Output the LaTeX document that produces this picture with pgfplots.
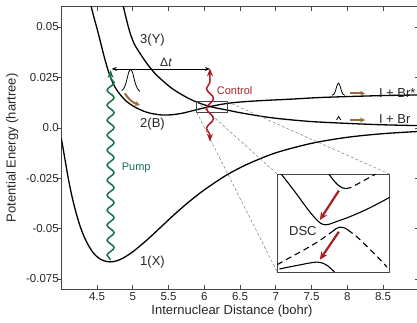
\documentclass[border=0pt]{standalone}
\usepackage{fontspec}
\setmainfont{Liberation Sans}
\usepackage{pgfplots}
\pgfplotsset{compat=1.18}
\usetikzlibrary{decorations.pathmorphing,arrows.meta}
\definecolor{pumpgreen}{RGB}{22,112,72}
\definecolor{ctrlred}{RGB}{168,32,38}
\definecolor{wpbrown}{RGB}{150,108,62}
\definecolor{axgray}{RGB}{70,70,70}
\begin{document}
\begin{tikzpicture}
\begin{axis}[
  name=main, at={(0,0)}, anchor=south west, scale only axis,
  width=357.5pt, height=282.24pt,
  xmin=4, xmax=9, ymin=-0.08, ymax=0.06,
  xtick={4.5,5,5.5,6,6.5,7,7.5,8,8.5},
  xticklabels={4.5,5,5.5,6,6.5,7,7.5,8,8.5},
  ytick={-0.075,-0.05,-0.025,0,0.025,0.05},
  yticklabels={-0.075,-0.05,-0.025,0.0,0.025,0.05},
  xtick align=inside, ytick align=outside, ytick pos=left,
  major tick length=4pt,
  tick style={axgray, line width=0.6pt},
  axis line style={axgray, line width=0.8pt},
  tick label style={font=\fontsize{11.5}{13}\selectfont, text=black!85},
  yticklabel style={xshift=5pt},
  xlabel={Internuclear Distance (bohr)},
  ylabel={Potential Energy (hartree)},
  label style={font=\fontsize{13}{15}\selectfont, text=black!85},
  xlabel style={at={(axis description cs:0.4776,-0.078)}, anchor=center},
  ylabel style={at={(axis description cs:-0.137,0.5)}, anchor=center},
]
% 1(X)
\addplot[black, line width=1.3pt, smooth] coordinates {
(4.00,-0.0050) (4.05,-0.0152) (4.10,-0.0254) (4.15,-0.0340) (4.20,-0.0412)
(4.25,-0.0473) (4.30,-0.0523) (4.35,-0.0563) (4.40,-0.0595) (4.45,-0.0621)
(4.50,-0.0639) (4.55,-0.0652) (4.60,-0.0660) (4.68,-0.0665) (4.75,-0.0662)
(4.85,-0.0649) (5.00,-0.0615) (5.20,-0.0556) (5.40,-0.0490) (5.60,-0.0424)
(5.80,-0.0363) (6.00,-0.0308) (6.30,-0.0237) (6.60,-0.0181) (7.00,-0.0124)
(7.50,-0.0077) (8.00,-0.0047) (8.50,-0.0029) (9.00,-0.0018)};
% 2(B)
\addplot[black, line width=1.3pt, smooth] coordinates {
(4.40,0.0625) (4.42,0.0600) (4.46,0.0544) (4.50,0.0493) (4.54,0.0438)
(4.58,0.0381) (4.62,0.0327) (4.66,0.0280) (4.70,0.0240) (4.75,0.0203)
(4.80,0.0176) (4.85,0.0154) (4.90,0.0135) (4.97,0.0116) (5.05,0.0099)
(5.15,0.0083) (5.25,0.0072) (5.40,0.0064) (5.55,0.0065) (5.70,0.0073)
(5.85,0.0086) (6.00,0.0099) (6.10,0.0107) (6.20,0.0114) (6.32,0.0121)
(6.50,0.0128) (6.80,0.0135) (7.20,0.0142) (7.60,0.0150) (8.00,0.0155)
(8.50,0.0160) (9.00,0.0163)};
% 3(Y)
\addplot[black, line width=1.3pt, smooth] coordinates {
(4.85,0.0630) (4.87,0.0600) (4.91,0.0540) (4.96,0.0474) (5.02,0.0417)
(5.10,0.0370) (5.20,0.0318) (5.31,0.0270) (5.43,0.0230) (5.55,0.0195)
(5.66,0.0170) (5.78,0.0146) (5.90,0.0127) (6.01,0.0113) (6.10,0.0104)
(6.20,0.0096) (6.32,0.0088) (6.50,0.0075) (6.80,0.0057) (7.06,0.0045)
(7.50,0.0031) (8.00,0.0022) (8.50,0.0015) (9.00,0.0011)};
% wave packets
\addplot[black, line width=0.8pt, smooth] coordinates {
(4.845,0.0185) (4.875,0.0195) (4.905,0.0222) (4.925,0.0250) (4.945,0.0277)
(4.970,0.0290) (4.995,0.0277) (5.015,0.0250) (5.035,0.0222) (5.065,0.0195)
(5.100,0.0181)};
\addplot[black, line width=0.8pt, smooth] coordinates {
(7.787,0.0161) (7.817,0.0168) (7.832,0.0180) (7.847,0.0198) (7.862,0.0215)
(7.877,0.0222) (7.892,0.0215) (7.907,0.0198) (7.922,0.0180) (7.937,0.0168)
(7.967,0.0161)};
\addplot[black, line width=0.8pt] coordinates {
(7.850,0.0039) (7.880,0.0056) (7.910,0.0039)};
% small box and connectors
\draw[axgray, line width=0.7pt] (axis cs:5.894,0.00769) rectangle (axis cs:6.322,0.01295);
\draw[gray, line width=0.5pt, dash pattern=on 3pt off 2pt]
  (axis cs:5.894,0.00769) -- (axis cs:7.021,-0.07152)
  (axis cs:5.894,0.01295) -- (axis cs:7.021,-0.02291)
  (axis cs:6.322,0.01295) -- (axis cs:8.587,-0.02291);
% arrows
\draw[black, line width=0.6pt, {Stealth[length=5pt,width=4pt]}-{Stealth[length=5pt,width=4pt]}]
  (axis cs:4.706,0.0292) -- (axis cs:6.08,0.0292);
\draw[pumpgreen, line width=1.5pt, decorate,
  decoration={snake, amplitude=3.5pt, segment length=15pt, post length=7pt},
  -{Stealth[length=8pt,width=6pt]}]
  (axis cs:4.69,-0.0655) -- (axis cs:4.69,0.0287);
\draw[ctrlred, line width=1.5pt, decorate,
  decoration={snake, amplitude=3.5pt, segment length=20pt, pre length=7pt, post length=7pt},
  {Stealth[length=8pt,width=6pt]}-{Stealth[length=8pt,width=6pt]}]
  (axis cs:6.08,-0.0069) -- (axis cs:6.08,0.0295);
\draw[wpbrown, line width=2pt, -{Stealth[length=5pt,width=5pt]}]
  (axis cs:4.89,0.0171) to[bend right=20] (axis cs:5.10,0.0113);
\draw[wpbrown, line width=2pt, -{Stealth[length=5pt,width=5pt]}]
  (axis cs:8.04,0.0171) -- (axis cs:8.25,0.0171);
\draw[wpbrown, line width=2pt, -{Stealth[length=5pt,width=5pt]}]
  (axis cs:8.04,0.0039) -- (axis cs:8.25,0.0039);
% labels
\node[anchor=base west, font=\fontsize{13}{15}\selectfont, text=black!85] at (axis cs:5.055,0.0416) {3(Y)};
\node[anchor=base west, font=\fontsize{13}{15}\selectfont, text=black!85] at (axis cs:5.055,0.0004) {2(B)};
\node[anchor=base west, font=\fontsize{13}{15}\selectfont, text=black!85] at (axis cs:5.055,-0.0683) {1(X)};
\node[anchor=base west, font=\fontsize{11}{13}\selectfont, text=pumpgreen] at (axis cs:4.798,-0.0214) {Pump};
\node[anchor=base west, font=\fontsize{11}{13}\selectfont, text=ctrlred] at (axis cs:6.127,0.0163) {Control};
\node[anchor=base west, font=\fontsize{12}{14}\selectfont, text=black!85] at (axis cs:5.335,0.0303) {Δ\textit{t}};
\node[anchor=base west, font=\fontsize{13}{15}\selectfont, text=black!85] at (axis cs:8.395,0.0151) {I + Br*};
\node[anchor=base west, font=\fontsize{13}{15}\selectfont, text=black!85] at (axis cs:8.395,0.0019) {I + Br};
\end{axis}
% right-hand ticks
\begin{axis}[
  at={(0,0)}, anchor=south west, scale only axis,
  width=357.5pt, height=282.24pt,
  xmin=4, xmax=9, ymin=-0.08, ymax=0.06,
  axis x line=none, axis y line*=right,
  ytick={-0.075,-0.05,-0.025,0,0.025,0.05}, yticklabels={},
  ytick align=inside, major tick length=4pt,
  tick style={axgray, line width=0.6pt},
  axis line style={axgray, line width=0.8pt},
]
\end{axis}
% inset
\begin{axis}[
  at={(216pt,17.1pt)}, anchor=south west, scale only axis,
  width=112pt, height=98pt,
  xmin=0, xmax=1, ymin=0, ymax=1,
  xtick=\empty, ytick=\empty,
  axis line style={axgray, line width=0.8pt},
  axis background/.style={fill=white},
]
\addplot[black, line width=1.1pt, smooth] coordinates {
(0.035,1.0) (0.10,0.905) (0.17,0.80) (0.24,0.69) (0.30,0.60) (0.35,0.535)
(0.39,0.495) (0.43,0.482) (0.47,0.49) (0.53,0.515) (0.65,0.565) (0.80,0.64)
(0.92,0.71) (1.0,0.76)};
\addplot[black, line width=1.1pt, smooth] coordinates {
(0.46,1.0) (0.50,0.94) (0.54,0.89) (0.58,0.86) (0.61,0.852)};
\addplot[black, line width=1.1pt, smooth, dash pattern=on 6pt off 4pt] coordinates {
(0.61,0.852) (0.65,0.86) (0.72,0.90) (0.80,0.95) (0.88,1.0)};
\addplot[black, line width=1.1pt, smooth, dash pattern=on 6pt off 4pt] coordinates {
(0.0,0.075) (0.11,0.145) (0.23,0.22) (0.35,0.30) (0.44,0.37) (0.50,0.42)};
\addplot[black, line width=1.1pt, smooth] coordinates {
(0.50,0.42) (0.53,0.445) (0.565,0.458) (0.60,0.45) (0.63,0.43)};
\addplot[black, line width=1.1pt, smooth, dash pattern=on 6pt off 4pt] coordinates {
(0.63,0.43) (0.71,0.36) (0.80,0.262) (0.89,0.16) (0.98,0.05)};
\addplot[black, line width=1.1pt, smooth] coordinates {
(0.02,0.03) (0.10,0.05) (0.20,0.072) (0.28,0.09) (0.34,0.10) (0.38,0.098)
(0.42,0.083) (0.46,0.055) (0.51,0.0)};
\draw[ctrlred, line width=2.2pt, -{Stealth[length=8pt,width=7pt]}]
  (axis cs:0.55,0.83) -- (axis cs:0.38,0.53);
\draw[ctrlred, line width=2.2pt, -{Stealth[length=8pt,width=7pt]}]
  (axis cs:0.55,0.41) -- (axis cs:0.38,0.125);
\node[anchor=base west, font=\fontsize{13}{15}\selectfont, text=black!85] at (axis cs:0.075,0.37) {DSC};
\end{axis}
\pgfresetboundingbox
\path[use as bounding box] (-61.25pt,-32.9pt) rectangle (355.75pt,289.1pt);
\end{tikzpicture}
\end{document}
